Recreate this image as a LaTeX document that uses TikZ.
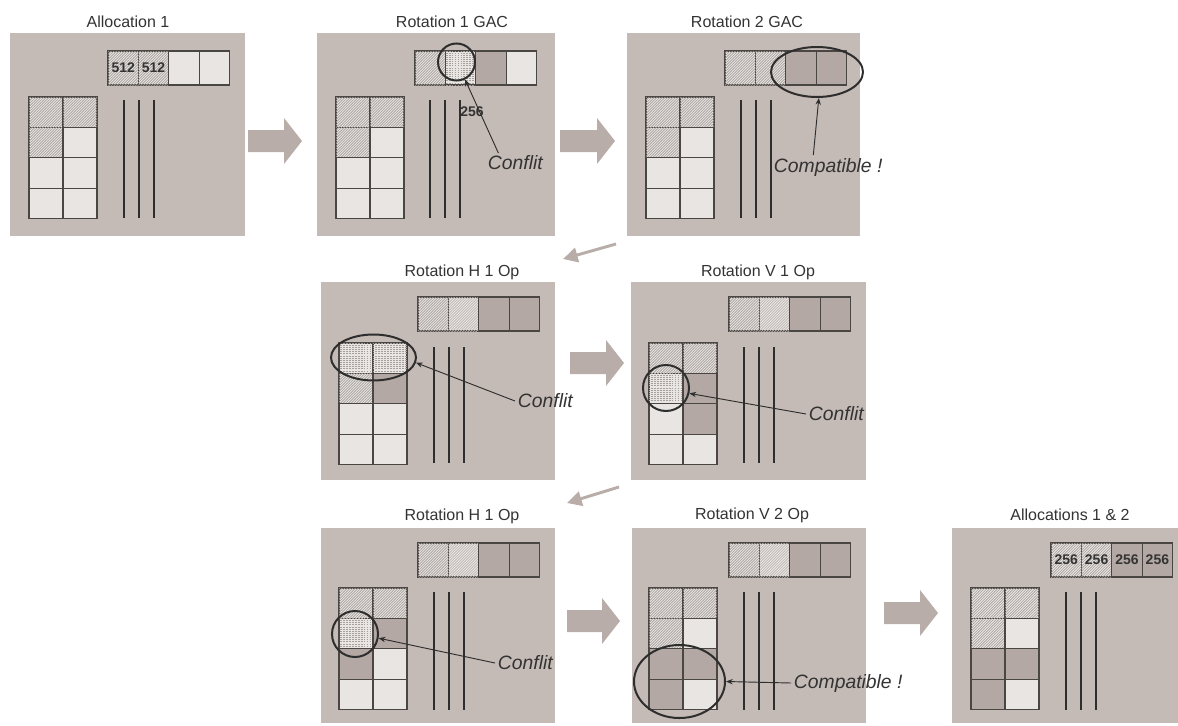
\documentclass[tikz,border=0pt]{standalone}
\usepackage{fontspec}
\setmainfont{Liberation Sans}
\usetikzlibrary{patterns,shapes.geometric,arrows.meta,calc}
\definecolor{panelbg}{HTML}{C4BAB6}
\definecolor{cellL}{HTML}{E9E5E2}
\definecolor{cellD}{HTML}{B3A8A3}
\definecolor{hatchc}{HTML}{A6A09C}
\definecolor{hatchl}{HTML}{BDB7B3}
\definecolor{bordc}{HTML}{4A4644}
\definecolor{linec}{HTML}{2E2E2E}
\definecolor{txtc}{HTML}{333333}
\definecolor{arrc}{HTML}{B8ADA8}

\pgfdeclarepatternformonly{fine ne}{\pgfqpoint{-1pt}{-1pt}}{\pgfqpoint{3pt}{3pt}}{\pgfqpoint{2pt}{2pt}}{%
  \pgfsetlinewidth{0.45pt}%
  \pgfpathmoveto{\pgfqpoint{-0.1pt}{-0.1pt}}\pgfpathlineto{\pgfqpoint{2.1pt}{2.1pt}}\pgfusepath{stroke}}
\pgfdeclarepatternformonly{fine dash}{\pgfqpoint{-1pt}{-1pt}}{\pgfqpoint{3pt}{3pt}}{\pgfqpoint{2.2pt}{1.6pt}}{%
  \pgfsetlinewidth{0.5pt}%
  \pgfpathmoveto{\pgfqpoint{0pt}{0pt}}\pgfpathlineto{\pgfqpoint{1.3pt}{0pt}}\pgfusepath{stroke}}

\newcommand\toprow[6]{%
  \foreach \s [count=\i from 0] in {#3,#4,#5,#6}
    \path[\s,cellb] ({#1+\i*30.4},#2) rectangle ++(30.4,34);}
\newcommand\gridcells[3]{%
  \foreach \s [count=\i from 0] in {#3}{%
    \pgfmathtruncatemacro\cc{mod(\i,2)}%
    \pgfmathtruncatemacro\rr{\i/2}%
    \path[\s,cellb] ({#1+\cc*34},{#2+\rr*30.4}) rectangle ++(34,30.4);}}
\newcommand\vlines[3]{%
  \foreach \k in {0,1,2} \draw[vline] ({#1+\k*15},#2) -- ({#1+\k*15},#3);}
\newcommand\blockarrow[3]{%
  \fill[arrc] (#1,#3-11) -- (#2-18,#3-11) -- (#2-18,#3-23) -- (#2,#3) -- (#2-18,#3+23) -- (#2-18,#3+11) -- (#1,#3+11) -- cycle;}
\newcommand\panel[5]{%
  \node[panelbox, anchor=north west, minimum width={(#4-#2)*0.75pt}, minimum height={(#5-#3)*0.75pt}] (#1) at (#2,#3) {};}

\begin{document}
\begin{tikzpicture}[x=0.75pt,y=-0.75pt,
  panelbox/.style={fill=panelbg, draw=none, inner sep=0pt, outer sep=0pt},
  cellb/.style={draw=bordc, line width=0.9pt},
  cL/.style={fill=cellL},
  cD/.style={fill=cellD},
  cH/.style={fill=cellL, postaction={pattern=fine ne, pattern color=hatchc}},
  cHl/.style={fill=cellL, postaction={pattern=fine ne, pattern color=hatchl}},
  cC/.style={fill=cellL, postaction={pattern=fine dash, pattern color=hatchc}},
  vline/.style={draw=linec, line width=1.7pt},
  ring/.style={draw=linec, line width=1.5pt, ellipse, inner sep=0pt},
  annot/.style={draw=linec, line width=0.7pt, -{Stealth[length=5pt,width=4pt]}},
  note/.style={font=\itshape\fontsize{14.5}{16}\selectfont, text=txtc, inner sep=2pt},
  ttl/.style={font=\fontsize{12}{14}\selectfont, text=txtc},
  lab/.style={font=\bfseries\fontsize{10.5}{12}\selectfont, text=txtc, inner sep=0pt},
  thinarr/.style={draw=arrc, line width=2.2pt, -{Triangle[length=11pt,width=11pt]}}
]
\useasboundingbox (0,0) rectangle (1178,725);

% panels
\panel{p1}{10}{33}{245}{236}
\panel{p2}{317}{33}{555}{236}
\panel{p3}{627}{33}{860}{236}
\panel{p4}{321}{282}{555}{480}
\panel{p5}{631}{282}{866}{480}
\panel{p6}{321}{528}{555}{723}
\panel{p7}{632}{528}{866}{723}
\panel{p8}{952}{528}{1178}{723}

% titles
\node[ttl] (h1) at (128,22) {Allocation 1};
\node[ttl] (h2) at (452,22) {Rotation 1 GAC};
\node[ttl] (h3) at (747,22) {Rotation 2 GAC};
\node[ttl] (h4) at (462,272) {Rotation H 1 Op};
\node[ttl] (h5) at (758,272) {Rotation V 1 Op};
\node[ttl] (h6) at (462,516) {Rotation H 1 Op};
\node[ttl] (h7) at (752,515) {Rotation V 2 Op};
\node[ttl] (h8) at (1070,515) {Allocations 1 \& 2};

% panel 1
\toprow{108}{51}{cH}{cH}{cL}{cL}
\gridcells{29}{97}{cH,cH,cH,cL,cL,cL,cL,cL}
\vlines{124}{100}{218}
\node[lab] (n512a) at (123.2,68) {512};
\node[lab] (n512b) at (153.6,68) {512};

% panel 2
\toprow{415}{51}{cH}{cC}{cD}{cL}
\gridcells{336}{97}{cH,cH,cH,cL,cL,cL,cL,cL}
\vlines{430}{100}{218}
\node[lab] (n256) at (472,112) {256};
\node[ring, minimum width=27.75pt, minimum height=27.75pt] (c2) at (456.5,62) {};
\node[note, anchor=west] (t2) at (485,163) {Conflit};
\draw[annot] ($(t2.north west)!0.22!(t2.north east)$) -- (c2.-64);

% panel 3
\toprow{725}{51}{cH}{cH}{cD}{cD}
\gridcells{646}{97}{cH,cH,cH,cL,cL,cL,cL,cL}
\vlines{741}{100}{218}
\node[ring, minimum width=69pt, minimum height=37.5pt] (e3) at (817,72) {};
\node[note, anchor=west] (t3) at (771,167) {Compatible !};
\draw[annot] ($(t3.north west)!0.37!(t3.north east)$) -- (e3.-86);

% panel 4
\toprow{418}{297}{cH}{cHl}{cD}{cD}
\gridcells{339}{343}{cC,cC,cH,cD,cL,cL,cL,cL}
\vlines{434}{347}{463}
\node[ring, minimum width=63.75pt, minimum height=34.5pt] (e4) at (373.5,357.5) {};
\node[note, anchor=west] (t4) at (515,401) {Conflit};
\draw[annot] (t4.west) -- (e4.-7);

% panel 5
\toprow{729}{297}{cH}{cHl}{cD}{cD}
\gridcells{649}{343}{cH,cH,cC,cD,cL,cD,cL,cL}
\vlines{744}{347}{463}
\node[ring, minimum width=34.5pt, minimum height=34.5pt] (c5) at (666,388) {};
\node[note, anchor=west] (t5) at (806,414) {Conflit};
\draw[annot] (t5.west) -- (c5.-13);

% panel 6
\toprow{418}{543}{cH}{cHl}{cD}{cD}
\gridcells{339}{588}{cH,cH,cC,cD,cD,cL,cL,cL}
\vlines{434}{592}{710}
\node[ring, minimum width=34.5pt, minimum height=34.5pt] (c6) at (355,634) {};
\node[note, anchor=west] (t6) at (495,663) {Conflit};
\draw[annot] (t6.west) -- (c6.-10);

% panel 7
\toprow{729}{543}{cH}{cHl}{cD}{cD}
\gridcells{649}{588}{cH,cH,cH,cL,cD,cD,cD,cL}
\vlines{744}{592}{710}
\node[ring, minimum width=68.25pt, minimum height=54.75pt] (e7) at (679.5,681.5) {};
\node[note, anchor=west] (t7) at (791,683) {Compatible !};
\draw[annot] (t7.west) -- (e7.0);

% panel 8
\toprow{1051}{543}{cH}{cH}{cD}{cD}
\gridcells{971}{588}{cH,cH,cH,cL,cD,cD,cD,cL}
\vlines{1066}{592}{710}
\foreach \i in {0,1,2,3}
  \node[lab] (q\i) at ({1051+15.2+\i*30.4},560) {256};

% big arrows
\blockarrow{248}{302}{141}
\blockarrow{560}{615}{141}
\blockarrow{570}{624}{363}
\blockarrow{567}{620}{621}
\blockarrow{884}{938}{613}

% thin arrows between rows
\coordinate (r1s) at (616,244);
\coordinate (r1e) at (563,259);
\coordinate (r2s) at (619,487);
\coordinate (r2e) at (567,503);
\draw[thinarr] (r1s) -- (r1e);
\draw[thinarr] (r2s) -- (r2e);
\end{tikzpicture}
\end{document}
